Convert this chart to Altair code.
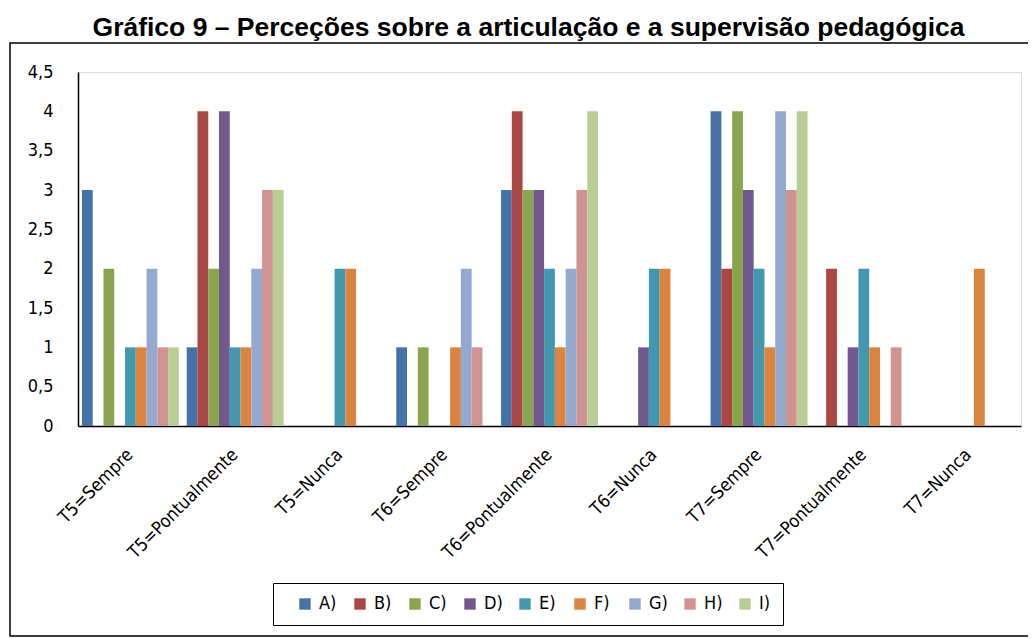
import altair as alt
import pandas as pd

categories = ["T5=Sempre", "T5=Pontualmente", "T5=Nunca",
              "T6=Sempre", "T6=Pontualmente", "T6=Nunca",
              "T7=Sempre", "T7=Pontualmente", "T7=Nunca"]
series = ["A)", "B)", "C)", "D)", "E)", "F)", "G)", "H)", "I)"]
colors = ["#4572A7", "#AA4643", "#89A54E", "#71588F", "#4198AF",
          "#DB843D", "#93A9CF", "#D19392", "#B9CD96"]

vals_A = [3, 1, 0, 1, 3, 0, 4, 0, 0]
vals_B = [0, 4, 0, 0, 4, 0, 2, 2, 0]
vals_C = [2, 2, 0, 1, 3, 0, 4, 0, 0]
vals_D = [0, 4, 0, 0, 3, 1, 3, 1, 0]
vals_E = [1, 1, 2, 0, 2, 2, 2, 2, 0]
vals_F = [1, 1, 2, 1, 1, 2, 1, 1, 2]
vals_G = [2, 2, 0, 2, 2, 0, 4, 0, 0]
vals_H = [1, 3, 0, 1, 3, 0, 3, 1, 0]
vals_I = [1, 3, 0, 0, 4, 0, 4, 0, 0]

title_text = "Gráfico 9 – Perceções sobre a articulação e a supervisão pedagógica"

all_vals = [vals_A, vals_B, vals_C, vals_D, vals_E, vals_F, vals_G, vals_H, vals_I]
rows = []
for s, vals in zip(series, all_vals):
    for c, v in zip(categories, vals):
        rows.append({"cat": c, "serie": s, "valor": v})
df = pd.DataFrame(rows)

FONT = "Liberation Sans Narrow, DejaVu Sans Condensed, Roboto Condensed, sans-serif"

bars = alt.Chart(df).mark_bar().encode(
    x=alt.X("cat:N", sort=categories, title=None,
            scale=alt.Scale(paddingInner=0.075, paddingOuter=0.0375),
            axis=alt.Axis(labelAngle=-45, labelAlign="right", labelBaseline="middle",
                          labelPadding=26, ticks=False, domainColor="black",
                          domainWidth=1.5, labelFont=FONT, labelFontSize=18,
                          labelColor="black")),
    xOffset=alt.XOffset("serie:N", sort=series, scale=alt.Scale(domain=series)),
    y=alt.Y("valor:Q", title=None,
            scale=alt.Scale(domain=[0, 4.5], nice=False),
            axis=alt.Axis(values=[0, 0.5, 1, 1.5, 2, 2.5, 3, 3.5, 4, 4.5],
                          format=".1~f", labelExpr="replace(datum.label, '.', ',')",
                          ticks=False, grid=False, domainColor="black", domainWidth=1.5,
                          labelPadding=25, labelFont=FONT, labelFontSize=18,
                          labelColor="black")),
    color=alt.Color("serie:N", sort=series,
                    scale=alt.Scale(domain=series, range=colors),
                    legend=alt.Legend(title=None, orient="none", legendX=195, legendY=511,
                                      direction="horizontal", columns=9,
                                      symbolType="square", symbolSize=130,
                                      symbolStrokeWidth=0, symbolOffset=11,
                                      labelFont=FONT, labelFontSize=18, labelColor="black",
                                      labelOffset=5, columnPadding=2, gridAlign="all",
                                      padding=12, strokeColor="black",
                                      fillColor="white")),
)

frame = alt.Chart(alt.Data(values=[{}])).mark_rect(
    fill="transparent", stroke="black", strokeWidth=1.5
).encode(
    x=alt.value(-68), x2=alt.value(970),
    y=alt.value(-29), y2=alt.value(564),
)

chart = alt.layer(frame, bars).properties(
    width=943, height=354,
    autosize=alt.AutoSizeParams(type="none"),
    padding={"left": 70, "top": 64, "right": 7, "bottom": 213},
    title=alt.TitleParams(title_text, anchor="middle", dx=-21, dy=25, offset=5,
                          baseline="alphabetic",
                          font="Liberation Sans, Arial, sans-serif", fontSize=26.5,
                          fontWeight="bold", color="black"),
).configure_view(stroke=None).configure(background="white")

chart.save("out.html", embed_options={"renderer": "svg", "actions": False})
